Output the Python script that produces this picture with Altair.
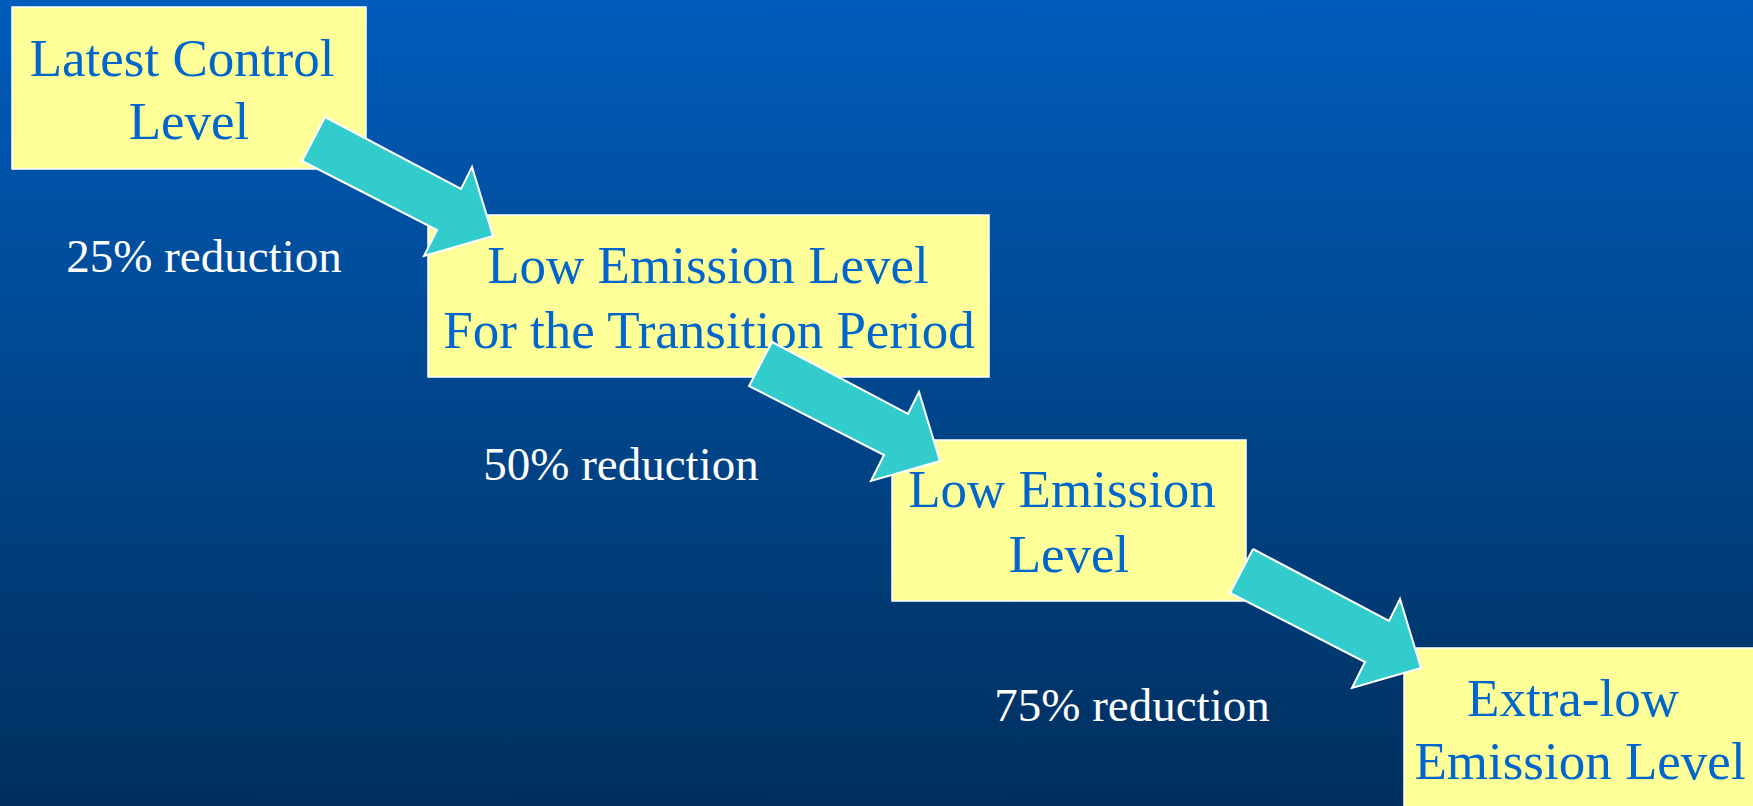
import altair as alt
import pandas as pd

W, H = 1753, 806

# Level boxes: left, top, right, bottom (pixels from the top-left corner)
box_left = [12, 428, 892, 1404]
box_top = [7, 215, 440, 648]
box_right = [366, 989, 1246, 1790]
box_bottom = [169, 377, 601, 840]

# Two lines of text per box, with centre x and baseline y
line_text = [
    "Latest Control", "Level",
    "Low Emission Level", "For the Transition Period",
    "Low Emission", "Level",
    "Extra-low", "Emission Level",
]
line_x = [182, 189, 708, 709, 1062, 1069, 1573, 1580]
line_y = [76, 139, 283, 348, 507, 572, 716, 779]

# Reduction labels between the steps
red_text = ["25% reduction", "50% reduction", "75% reduction"]
red_x = [204, 621, 1132]
red_y = [272, 480, 721]

# Block-arrow outline (first arrow) and the offsets of each arrow
arrow_x = [325, 461, 472, 493, 424, 437, 302, 325]
arrow_y = [117, 189, 167, 236, 256, 230, 161, 117]
arrow_dx = [0, 447, 928]
arrow_dy = [0, 225, 432]

boxes = pd.DataFrame({"x": box_left, "x2": box_right, "y": box_top, "y2": box_bottom})
lines = pd.DataFrame({"t": line_text, "x": line_x, "y": line_y})
reds = pd.DataFrame({"t": red_text, "x": red_x, "y": red_y})
arrows = pd.DataFrame([
    {"arrow": k, "i": i, "x": ax + dx, "y": ay + dy}
    for k, (dx, dy) in enumerate(zip(arrow_dx, arrow_dy))
    for i, (ax, ay) in enumerate(zip(arrow_x, arrow_y))
])
bg = pd.DataFrame({"x": [0], "x2": [W], "y": [0], "y2": [H]})

xs = alt.Scale(domain=[0, W], nice=False, zero=False)
ys = alt.Scale(domain=[0, H], nice=False, zero=False, reverse=True)
X = lambda f: alt.X(f, type="quantitative", scale=xs, axis=None)
Y = lambda f: alt.Y(f, type="quantitative", scale=ys, axis=None)

background = alt.Chart(bg).mark_rect(
    fill=alt.Gradient(
        gradient="linear",
        stops=[
            alt.GradientStop(color="#005CBC", offset=0),
            alt.GradientStop(color="#00468C", offset=0.5),
            alt.GradientStop(color="#002F5E", offset=1),
        ],
        x1=0, x2=0, y1=0, y2=1,
    )
).encode(x=X("x"), x2="x2", y=Y("y"), y2="y2")

box_layer = alt.Chart(boxes).mark_rect(
    fill="#FFFF99", stroke="#FFFFFF", strokeWidth=1.5, clip=True
).encode(x=X("x"), x2="x2", y=Y("y"), y2="y2")

box_text = alt.Chart(lines).mark_text(
    font="Liberation Serif", fontSize=53, color="#0066CC",
    align="center", baseline="alphabetic", clip=True
).encode(x=X("x"), y=Y("y"), text="t:N")

arrow_layer = alt.Chart(arrows).mark_line(
    fill="#33CCCC", stroke="#FFFFFF", strokeWidth=2, strokeJoin="miter", interpolate="linear"
).encode(x=X("x"), y=Y("y"), detail="arrow:N", order=alt.Order("i:Q"))

red_layer = alt.Chart(reds).mark_text(
    font="Liberation Serif", fontSize=47, color="#FFFFFF",
    align="center", baseline="alphabetic"
).encode(x=X("x"), y=Y("y"), text="t:N")

chart = alt.layer(background, box_layer, box_text, arrow_layer, red_layer).properties(
    width=W, height=H, padding=0, autosize=alt.AutoSizeParams(type="none")
).configure_view(stroke=None)

chart.save("out.html", embed_options={"renderer": "svg", "actions": False})
